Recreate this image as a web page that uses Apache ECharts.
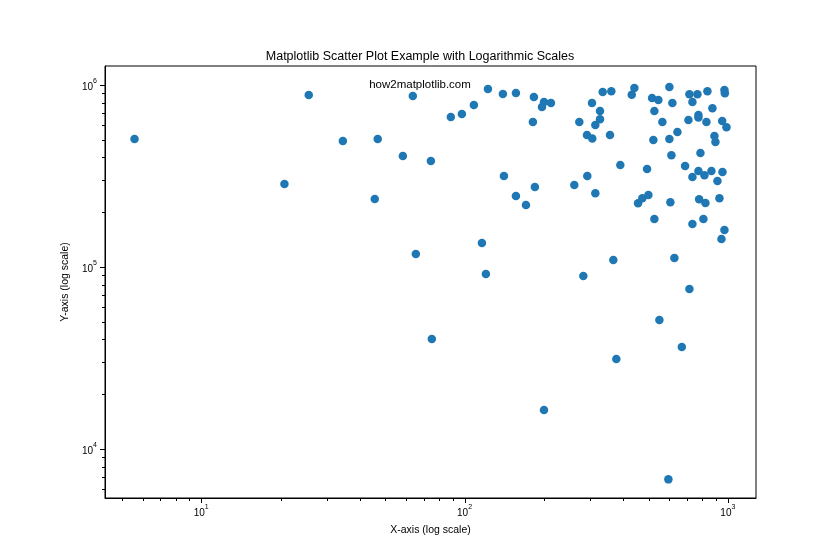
<!DOCTYPE html>
<html>
<head>
<meta charset="utf-8">
<script src="https://cdn.jsdelivr.net/npm/echarts@6/dist/echarts.min.js"></script>
<style>html,body{margin:0;padding:0;background:#fff}#c{width:840px;height:560px}</style>
</head>
<body>
<div id="c"></div>
<script>
// Data (x, y on log scales)
const xValues = [5.58, 20.7, 25.6, 34.5, 45.6, 46.8, 58.3, 63.6, 65.3, 74.5,
  75.1, 88.7, 97.7, 108.5, 116.4, 120.5, 122.7, 141.1, 139.8, 156.7,
  156.7, 171.1, 181.8, 183.4, 185.0, 196.8, 200.3, 200.3, 212.9, 334.7,
  360.9, 304.8, 326.9, 326.9, 313.8, 272.8, 291.7, 305.6, 356.8, 441.6,
  431.5, 599.6, 515.5, 544.7, 615.7, 526.0, 564.0, 521.4, 599.6, 643.3,
  714.5, 766.3, 836.3, 970.7, 974.0, 733.5, 873.7, 773.1, 708.3, 829.0,
  951.5, 988.0, 889.3, 897.2, 786.7, 610.4, 688.0, 773.1, 733.5, 814.7,
  866.1, 954.0, 913.0, 390.5, 493.4, 292.5, 261.1, 313.8, 456.0, 473.5,
  499.0, 604.9, 778.0, 821.8, 929.0, 526.0, 733.5, 807.5, 970.7, 945.7,
  367.3, 626.6, 282.5, 714.5, 549.5, 668.6, 377.1, 594.4, 773.0];
const yValues = [505000, 285800, 881000, 492000, 236400, 505000, 407000, 870000, 117900, 382000,
  40200, 667000, 693000, 776000, 135500, 91500, 951000, 316000, 892000, 245500,
  904000, 219000, 626000, 859000, 275000, 757000, 16380, 807000, 796000, 915000,
  923000, 796000, 720000, 648000, 603000, 626000, 531000, 509000, 531000, 963000,
  884000, 975000, 848000, 827000, 796000, 720000, 626000, 499000, 505000, 552000,
  889000, 889000, 923000, 939000, 900000, 807000, 745000, 684000, 642000, 626000,
  634000, 586000, 525000, 486000, 423000, 411000, 359000, 337000, 312000, 319000,
  337000, 333000, 297000, 363000, 346000, 316000, 282000, 254000, 224000, 239000,
  249000, 227000, 236000, 225000, 239000, 183500, 172300, 183500, 159700, 142500,
  109300, 112100, 89200, 75700, 51100, 36300, 31200, 6810, 663000];

const xMajorTicks = [10, 100, 1000];
const xMinorTicks = [5, 6, 7, 8, 9, 20, 30, 40, 50, 60, 70, 80, 90, 200, 300, 400, 500, 600, 700, 800, 900];
const yMajorTicks = [1e4, 1e5, 1e6];
const yMinorTicks = [6000, 7000, 8000, 9000, 2e4, 3e4, 4e4, 5e4, 6e4, 7e4, 8e4, 9e4, 2e5, 3e5, 4e5, 5e5, 6e5, 7e5, 8e5, 9e5];

const X_MIN = 4.31, X_MAX = 1279, Y_MIN = 5380, Y_MAX = 1.272e6;
const FONT = '"Liberation Sans", sans-serif';
function powLabel(v) {
  const e = Math.round(Math.log10(v));
  return '{b|10}{s|' + e + '}';
}
const richLabel = {
  b: { fontFamily: FONT, fontSize: 10, color: '#000', verticalAlign: 'bottom', lineHeight: 14 },
  s: { fontFamily: FONT, fontSize: 7, color: '#000', verticalAlign: 'top', lineHeight: 14 }
};

const points = xValues.map((x, i) => [x, yValues[i]]);

function xTickSeries(vals, len) {
  return {
    type: 'custom', silent: true, clip: false, z: 5,
    data: vals.map(v => [v, Y_MIN]),
    renderItem: function (params, api) {
      const cs = params.coordSys;
      const px = Math.round(api.coord([api.value(0), Y_MIN])[0]) + 0.5;
      const y0 = cs.y + cs.height;
      return { type: 'line', shape: { x1: px, y1: y0, x2: px, y2: y0 + len },
        style: { stroke: '#000', lineWidth: 1 } };
    }
  };
}
function yTickSeries(vals, len) {
  return {
    type: 'custom', silent: true, clip: false, z: 5,
    data: vals.map(v => [X_MIN, v]),
    renderItem: function (params, api) {
      const cs = params.coordSys;
      const py = Math.round(api.coord([X_MIN, api.value(1)])[1]) + 0.5;
      const x0 = cs.x;
      return { type: 'line', shape: { x1: x0, y1: py, x2: x0 - len, y2: py },
        style: { stroke: '#000', lineWidth: 1 } };
    }
  };
}

const chart = echarts.init(document.getElementById('c'), null, { renderer: 'canvas' });
chart.setOption({
  backgroundColor: '#fff',
  animation: false,
  title: {
    text: 'Matplotlib Scatter Plot Example with Logarithmic Scales',
    left: 'center', top: 50, padding: 0,
    textStyle: { fontFamily: FONT, fontSize: 12.5, fontWeight: 'normal', color: '#000' }
  },
  grid: { left: 105, right: 84, top: 66, bottom: 62, show: true, borderColor: '#000', borderWidth: 1, containLabel: false },
  xAxis: {
    type: 'log', logBase: 10, min: X_MIN, max: X_MAX,
    name: 'X-axis (log scale)', nameLocation: 'middle', nameGap: 27,
    nameTextStyle: { fontFamily: FONT, fontSize: 10.5, color: '#000' },
    axisLine: { show: true, lineStyle: { color: '#000', width: 1 } },
    axisTick: { show: false },
    splitLine: { show: false },
    axisLabel: { showMinLabel: false, showMaxLabel: false, margin: 6, color: '#000',
      formatter: v => powLabel(v), rich: richLabel }
  },
  yAxis: {
    type: 'log', logBase: 10, min: Y_MIN, max: Y_MAX,
    name: 'Y-axis (log scale)', nameLocation: 'middle', nameGap: 34, nameRotate: 90,
    nameTextStyle: { fontFamily: FONT, fontSize: 10.5, color: '#000' },
    axisLine: { show: true, lineStyle: { color: '#000', width: 1 } },
    axisTick: { show: false },
    splitLine: { show: false },
    axisLabel: { showMinLabel: false, showMaxLabel: false, margin: 8, color: '#000',
      formatter: v => powLabel(v), rich: richLabel }
  },
  graphic: [{
    type: 'text', left: 'center', top: 79,
    style: { text: 'how2matplotlib.com', fontFamily: FONT, fontSize: 11.5, fill: '#000' }
  }],
  series: [
    {
      type: 'scatter', data: points, symbolSize: 8.5,
      itemStyle: { color: '#1f77b4', opacity: 1 }, z: 3
    },
    xTickSeries(xMajorTicks, 5),
    xTickSeries(xMinorTicks, 3),
    yTickSeries(yMajorTicks, 5),
    yTickSeries(yMinorTicks, 3)
  ]
});
</script>
</body>
</html>
